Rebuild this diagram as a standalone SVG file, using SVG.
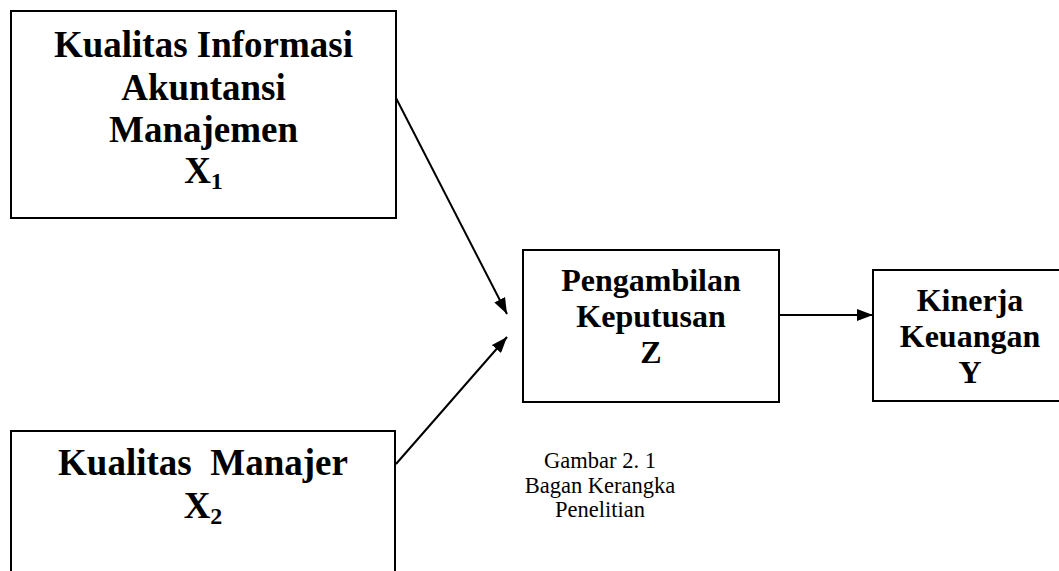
<svg xmlns="http://www.w3.org/2000/svg" width="1059" height="571" viewBox="0 0 1059 571">
<style>
.box{fill:#fff;stroke:#000;stroke-width:2}
.big{font-family:"Liberation Serif","Times New Roman",serif;font-weight:bold;font-size:37px;text-anchor:middle;fill:#000}
.mid{font-family:"Liberation Serif","Times New Roman",serif;font-weight:bold;font-size:32px;text-anchor:middle;fill:#000}
.cap{font-family:"Liberation Serif","Times New Roman",serif;font-size:22.5px;text-anchor:middle;fill:#000}
.sub{font-size:24px}
.conn{stroke:#000;stroke-width:2;fill:none}
</style>
<defs>
<marker id="ah2" viewBox="0 0 16 12" refX="16" refY="6" markerWidth="16" markerHeight="12" markerUnits="userSpaceOnUse" orient="auto">
<path d="M0,0 L16,6 L0,12 Z" fill="#000"/>
</marker>
</defs>
<rect width="1059" height="571" fill="#fff"/>
<g id="x1">
<rect class="box" x="11" y="11" width="385" height="207"/>
<text class="big" x="203.5" y="57">Kualitas Informasi</text>
<text class="big" x="203.5" y="100">Akuntansi</text>
<text class="big" x="203.5" y="142">Manajemen</text>
<text class="big" x="203.5" y="183">X<tspan class="sub" dy="6">1</tspan></text>
</g>
<g id="x2">
<rect class="box" x="11" y="431" width="384" height="160"/>
<text class="big" x="203" y="475" xml:space="preserve">Kualitas  Manajer</text>
<text class="big" x="203" y="518">X<tspan class="sub" dy="6">2</tspan></text>
</g>
<g id="z">
<rect class="box" x="523" y="250" width="256" height="152"/>
<text class="mid" x="651" y="291">Pengambilan</text>
<text class="mid" x="651" y="327">Keputusan</text>
<text class="mid" x="651" y="363">Z</text>
</g>
<g id="y">
<rect class="box" x="873" y="270" width="200" height="131"/>
<text class="mid" x="970" y="311">Kinerja</text>
<text class="mid" x="970" y="347">Keuangan</text>
<text class="mid" x="970" y="383">Y</text>
</g>
<g id="connectors">
<line class="conn" x1="396" y1="98" x2="507" y2="314" marker-end="url(#ah2)"/>
<line class="conn" x1="396" y1="464" x2="507" y2="337" marker-end="url(#ah2)"/>
<line class="conn" x1="779" y1="315" x2="873" y2="315" marker-end="url(#ah2)"/>
</g>
<g id="caption">
<text class="cap" x="600" y="468">Gambar 2. 1</text>
<text class="cap" x="600" y="493">Bagan Kerangka</text>
<text class="cap" x="600" y="517">Penelitian</text>
</g>
</svg>
